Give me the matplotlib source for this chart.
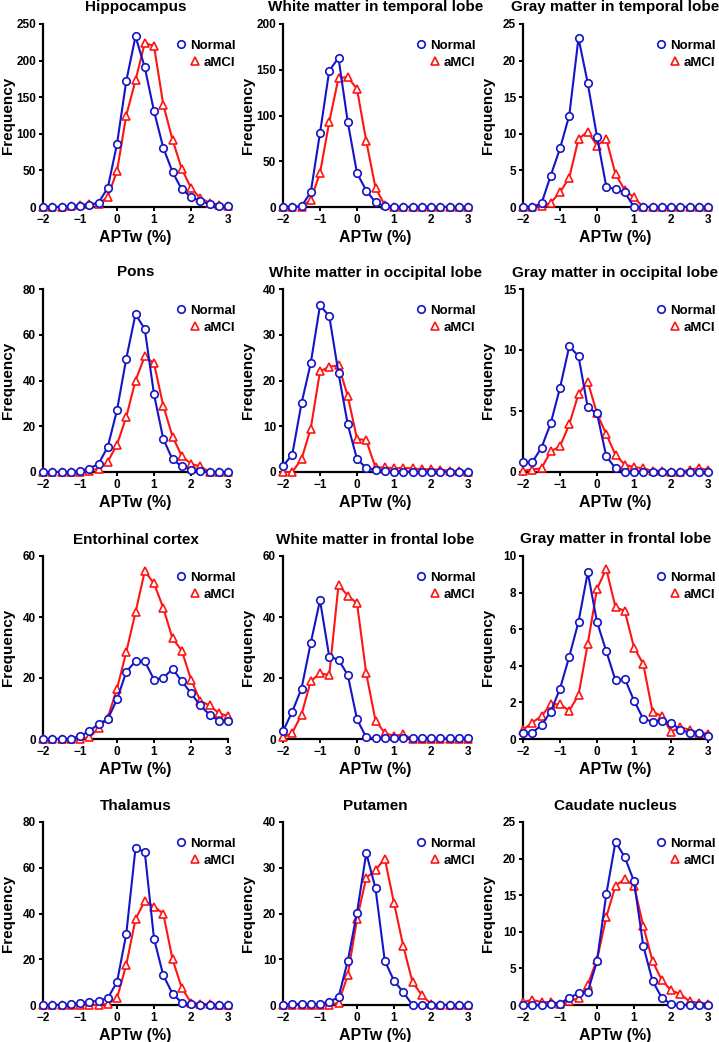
"""
APTw histograms, Normal vs aMCI, for twelve brain regions.
"""

import matplotlib
matplotlib.use("Agg")
import matplotlib.pyplot as plt
from matplotlib.lines import Line2D

plt.rcParams['font.family'] = ['Liberation Sans', 'DejaVu Sans']
plt.rcParams['font.weight'] = 'bold'

BLUE = '#1414c8'
RED = '#ff1414'

# bin centres, APTw (%)
APTW = [-2, -1.75, -1.5, -1.25, -1, -0.75, -0.5, -0.25, 0, 0.25, 0.5,
        0.75, 1, 1.25, 1.5, 1.75, 2, 2.25, 2.5, 2.75, 3]

HIPPO_NORMAL = [0, 0, 0, 1, 1, 3, 6, 26, 86, 172, 233, 191, 131, 81, 48, 24, 14, 8, 4, 1, 1]
HIPPO_AMCI = [0, 0, 0, 1, 3, 4, 4, 14, 49, 125, 173, 224, 220, 140, 92, 52, 26, 12, 6, 3, 1]

WMT_NORMAL = [0, 0, 1, 16, 81, 149, 163, 93, 37, 18, 5, 1, 0, 0, 0, 0, 0, 0, 0, 0, 0]
WMT_AMCI = [0, 0, 0, 8, 37, 93, 141, 142, 129, 72, 21, 2, 0, 0, 0, 0, 0, 0, 0, 0, 0]

GMT_NORMAL = [0, 0, 0.5, 4.3, 8, 12.5, 23.1, 16.9, 9.6, 2.8, 2.4, 2, 0, 0, 0, 0, 0, 0, 0, 0, 0]
GMT_AMCI = [0, 0, 0.1, 0.6, 2, 4, 9.3, 10.3, 8.4, 9.3, 4.5, 2.3, 1.3, 0, 0, 0, 0, 0, 0, 0, 0]

PONS_NORMAL = [0, 0, 0, 0, 0.5, 1.5, 3.5, 11, 27, 49.5, 69, 62.5, 34, 14.5, 5.5, 2.5, 1, 0.5, 0, 0, 0]
PONS_AMCI = [0, 0, 0, 0, 0, 0.5, 1.5, 4.5, 12, 24, 40, 50.5, 47.5, 29, 15.5, 7, 3.5, 2.5, 0, 0, 0]

WMO_NORMAL = [1.3, 3.8, 15, 23.8, 36.4, 34.1, 21.6, 10.4, 2.8, 0.9, 0.5, 0.3, 0.1, 0.1, 0, 0, 0, 0, 0, 0, 0]
WMO_AMCI = [0, 0, 2.8, 9.5, 22, 23, 23.3, 16.6, 7.3, 6.9, 1, 1, 0.8, 0.9, 0.8, 0.6, 0.6, 0.5, 0.3, 0.2, 0.1]

GMO_NORMAL = [0.8, 0.8, 2, 4, 6.9, 10.3, 9.5, 5.3, 4.8, 1.3, 0.3, 0, 0, 0, 0, 0, 0, 0, 0, 0, 0]
GMO_AMCI = [0.1, 0.2, 0.3, 1.7, 2.1, 3.9, 6.4, 7.4, 4.8, 3.1, 1.4, 0.6, 0.4, 0.3, 0.1, 0.1, 0, 0, 0.2, 0.3, 0.2]

ENTO_NORMAL = [0, 0, 0, 0, 1, 2.5, 5, 6.5, 13, 22, 25.5, 25.5, 19.5, 20, 23, 19, 15, 11, 8, 6, 6]
ENTO_AMCI = [0, 0, 0, 0, 0, 0.5, 3.5, 7, 16.5, 28.5, 41.5, 55, 51, 43, 33, 29, 19.5, 12.5, 11, 8.5, 7.5]

WMF_NORMAL = [2.5, 9, 16.5, 31.5, 45.5, 27, 26, 21, 6.5, 0.5, 0.2, 0.2, 0.2, 0.2, 0.2, 0.2, 0.2, 0.2, 0.2, 0.2, 0.2]
WMF_AMCI = [0.5, 2, 8, 19, 21.5, 21, 50.5, 47, 44.5, 21.5, 6, 2, 1, 1.5, 0, 0, 0, 0, 0, 0, 0]

GMF_NORMAL = [0.35, 0.35, 0.75, 1.5, 2.75, 4.5, 6.4, 9.1, 6.4, 4.8, 3.2, 3.3, 2.1, 1.1, 0.95, 1, 0.9, 0.5, 0.35, 0.35, 0.15]
GMF_AMCI = [0.5, 0.9, 1.25, 1.9, 1.9, 1.55, 2.4, 5.2, 8.2, 9.3, 7.2, 7, 5, 4.1, 1.5, 1.25, 0.4, 0.65, 0.5, 0.35, 0.3]

THAL_NORMAL = [0, 0, 0, 0.3, 0.8, 1.5, 1.8, 3, 10, 31, 68.5, 67, 29, 13, 5, 1, 0.3, 0, 0, 0, 0]
THAL_AMCI = [0, 0, 0, 0, 0, 0, 0, 0.5, 3, 17.5, 37.5, 45.5, 43, 40, 20, 7.5, 1, 0.5, 0.3, 0, 0]

PUT_NORMAL = [0, 0.2, 0.2, 0.2, 0.2, 0.7, 1.7, 9.6, 20.2, 33.2, 25.5, 9.7, 5.3, 2.8, 0, 0, 0, 0, 0, 0, 0]
PUT_AMCI = [0, 0, 0, 0, 0, 0, 0.5, 6.5, 18.8, 27.8, 29.5, 32, 22.3, 12.9, 5, 2.2, 0.2, 0, 0, 0, 0]

CAUD_NORMAL = [0, 0, 0, 0.1, 0.2, 1, 1.6, 1.8, 6, 15.1, 22.3, 20.2, 16.9, 8.1, 3.3, 1, 0.1, 0, 0, 0, 0]
CAUD_AMCI = [0.4, 0.7, 0.4, 0.4, 0.2, 0.6, 0.9, 2.8, 6.2, 12, 16.3, 17.2, 16.3, 10.8, 6, 3.4, 2, 1.5, 0.5, 0.3, 0.2]

TITLES = ["Hippocampus", "White matter in temporal lobe", "Gray matter in temporal lobe",
          "Pons", "White matter in occipital lobe", "Gray matter in occipital lobe",
          "Entorhinal cortex", "White matter in frontal lobe", "Gray matter in frontal lobe",
          "Thalamus", "Putamen", "Caudate nucleus"]
YMAX = [250, 200, 25, 80, 40, 15, 60, 60, 10, 80, 40, 25]
YSTEP = [50, 50, 5, 20, 10, 5, 20, 20, 2, 20, 10, 5]

NORMAL = [HIPPO_NORMAL, WMT_NORMAL, GMT_NORMAL, PONS_NORMAL, WMO_NORMAL, GMO_NORMAL,
          ENTO_NORMAL, WMF_NORMAL, GMF_NORMAL, THAL_NORMAL, PUT_NORMAL, CAUD_NORMAL]
AMCI = [HIPPO_AMCI, WMT_AMCI, GMT_AMCI, PONS_AMCI, WMO_AMCI, GMO_AMCI,
        ENTO_AMCI, WMF_AMCI, GMF_AMCI, THAL_AMCI, PUT_AMCI, CAUD_AMCI]

W, H = 719, 1042
LEFTS = [43, 283, 523]
TOPS = [24, 289, 556, 822]
AX_W, AX_H = 185, 183


def draw_panel(ax, title, normal, amci, ymax, ystep):
    ax.plot(APTW, amci, color=RED, lw=1.5, marker='^', ms=5.8, mfc='white',
            mec=RED, mew=1.2, clip_on=False, zorder=3)
    ax.plot(APTW, normal, color=BLUE, lw=1.5, marker='o', ms=5.4, mfc='white',
            mec=BLUE, mew=1.2, clip_on=False, zorder=4)

    ax.set_xlim(-2, 3)
    ax.set_ylim(0, ymax)
    ax.set_xticks(range(-2, 4))
    ax.set_yticks(range(0, ymax + 1, ystep))
    for s in ['top', 'right']:
        ax.spines[s].set_visible(False)
    for s in ['left', 'bottom']:
        ax.spines[s].set_linewidth(1.6)
    ax.tick_params(direction='out', length=3, width=1.4, labelsize=8.5, pad=2)

    ax.set_title(title, fontsize=11, fontweight='bold', pad=9)
    ax.set_xlabel("APTw (%)", fontsize=11.5, fontweight='bold', labelpad=3)
    ax.set_ylabel("Frequency", fontsize=11, fontweight='bold')
    ax.yaxis.set_label_coords(-0.15, 0.5)

    # one legend per entry so both are right aligned
    h1 = Line2D([], [], color=BLUE, marker='o', ls='none', ms=5.4, mfc='white', mew=1.2)
    h2 = Line2D([], [], color=RED, marker='^', ls='none', ms=5.8, mfc='white', mew=1.2)
    opts = dict(loc='center right', frameon=False, fontsize=9.5, borderpad=0,
                handlelength=0.8, handletextpad=0.3, borderaxespad=0)
    leg1 = ax.legend([h1], ["Normal"], bbox_to_anchor=(1.04, 0.88), **opts)
    ax.add_artist(leg1)
    ax.legend([h2], ["aMCI"], bbox_to_anchor=(1.04, 0.787), **opts)


fig = plt.figure(figsize=(W / 100, H / 100), dpi=100)
for i in range(12):
    r, c = divmod(i, 3)
    ax = fig.add_axes([LEFTS[c] / W, 1 - (TOPS[r] + AX_H) / H, AX_W / W, AX_H / H])
    draw_panel(ax, TITLES[i], NORMAL[i], AMCI[i], YMAX[i], YSTEP[i])

fig.savefig("out.png", dpi=100)
